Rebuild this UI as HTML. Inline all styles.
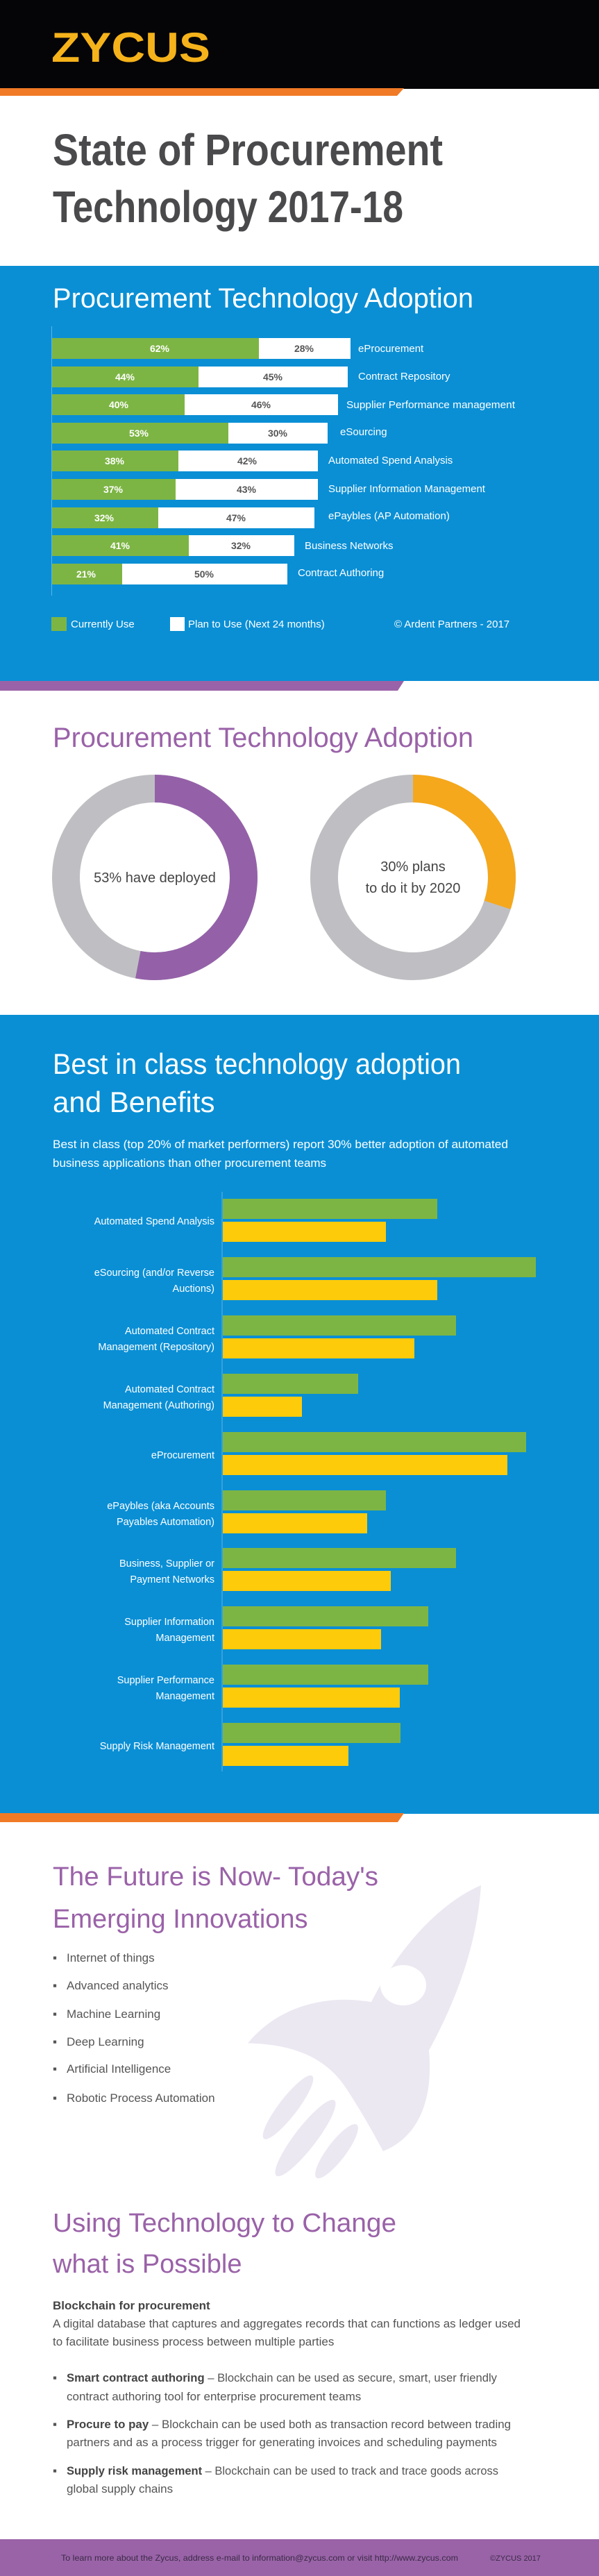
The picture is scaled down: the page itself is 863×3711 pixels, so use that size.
<!DOCTYPE html>
<html><head><meta charset="utf-8"><style>
html,body{margin:0;padding:0;background:#fff;}
svg{display:block;}
text{font-family:"Liberation Sans",sans-serif;}
</style></head><body>
<svg width="863" height="3711" viewBox="0 0 863 3711" xmlns="http://www.w3.org/2000/svg">
<!-- header -->
<rect x="0" y="0" width="863" height="128" fill="#050507"/>
<text x="74" y="89" font-size="60" font-weight="bold" fill="#f5b21a" textLength="229" lengthAdjust="spacingAndGlyphs">ZYCUS</text>
<polygon points="0,127 582,127 572,138 0,138" fill="#f07a25"/>
<text x="76" y="238" font-size="64" font-weight="bold" fill="#4a4a4c" textLength="562" lengthAdjust="spacingAndGlyphs">State of Procurement</text>
<text x="76" y="320" font-size="64" font-weight="bold" fill="#4a4a4c" textLength="505" lengthAdjust="spacingAndGlyphs">Technology 2017-18</text>

<!-- blue section 1 -->
<rect x="0" y="383" width="863" height="598" fill="#0a8fd5"/>
<text x="76" y="443" font-size="40" fill="#fff" textLength="606" lengthAdjust="spacingAndGlyphs">Procurement Technology Adoption</text>
<line x1="74.5" y1="470" x2="74.5" y2="858" stroke="#5db3e6" stroke-width="1"/>
<g font-size="14" font-weight="bold" text-anchor="middle">
<rect x="75" y="487" width="298" height="30" fill="#7db544"/><rect x="373" y="487" width="132" height="30" fill="#fff"/>
<text x="230" y="507" fill="#fff">62%</text><text x="438" y="507" fill="#555">28%</text>
<rect x="75" y="528" width="211" height="30" fill="#7db544"/><rect x="286" y="528" width="215" height="30" fill="#fff"/>
<text x="180" y="548" fill="#fff">44%</text><text x="393" y="548" fill="#555">45%</text>
<rect x="75" y="568" width="191" height="30" fill="#7db544"/><rect x="266" y="568" width="221" height="30" fill="#fff"/>
<text x="171" y="588" fill="#fff">40%</text><text x="376" y="588" fill="#555">46%</text>
<rect x="75" y="609" width="254" height="30" fill="#7db544"/><rect x="329" y="609" width="143" height="30" fill="#fff"/>
<text x="200" y="629" fill="#fff">53%</text><text x="400" y="629" fill="#555">30%</text>
<rect x="75" y="649" width="182" height="30" fill="#7db544"/><rect x="257" y="649" width="201" height="30" fill="#fff"/>
<text x="165" y="669" fill="#fff">38%</text><text x="356" y="669" fill="#555">42%</text>
<rect x="75" y="690" width="178" height="30" fill="#7db544"/><rect x="253" y="690" width="205" height="30" fill="#fff"/>
<text x="163" y="710" fill="#fff">37%</text><text x="355" y="710" fill="#555">43%</text>
<rect x="75" y="731" width="153" height="30" fill="#7db544"/><rect x="228" y="731" width="225" height="30" fill="#fff"/>
<text x="150" y="751" fill="#fff">32%</text><text x="340" y="751" fill="#555">47%</text>
<rect x="75" y="771" width="197" height="30" fill="#7db544"/><rect x="272" y="771" width="152" height="30" fill="#fff"/>
<text x="173" y="791" fill="#fff">41%</text><text x="347" y="791" fill="#555">32%</text>
<rect x="75" y="812" width="101" height="30" fill="#7db544"/><rect x="176" y="812" width="238" height="30" fill="#fff"/>
<text x="124" y="832" fill="#fff">21%</text><text x="294" y="832" fill="#555">50%</text>
</g>
<g font-size="15" fill="#fff">
<text x="516" y="507">eProcurement</text>
<text x="516" y="547">Contract Repository</text>
<text x="499" y="588" textLength="243" lengthAdjust="spacingAndGlyphs">Supplier Performance management</text>
<text x="490" y="627">eSourcing</text>
<text x="473" y="668">Automated Spend Analysis</text>
<text x="473" y="709">Supplier Information Management</text>
<text x="473" y="748">ePaybles (AP Automation)</text>
<text x="439" y="791">Business Networks</text>
<text x="429" y="830">Contract Authoring</text>
<rect x="74" y="889" width="22" height="20" fill="#7db544"/>
<text x="102" y="904">Currently Use</text>
<rect x="245" y="889" width="21" height="20" fill="#fff"/>
<text x="271" y="904">Plan to Use (Next 24 months)</text>
<text x="568" y="904">© Ardent Partners - 2017</text>
</g>
<polygon points="0,981 582,981 573,995 0,995" fill="#9a62a8"/>

<!-- donuts -->
<text x="76" y="1076" font-size="40" fill="#9a62a8" textLength="606" lengthAdjust="spacingAndGlyphs">Procurement Technology Adoption</text>
<circle cx="223" cy="1264" r="128" fill="none" stroke="#bfbfc3" stroke-width="40"/>
<circle cx="223" cy="1264" r="128" fill="none" stroke="#9461a8" stroke-width="40" stroke-dasharray="426.3 1000" transform="rotate(-90 223 1264)"/>
<circle cx="595" cy="1264" r="128" fill="none" stroke="#bfbfc3" stroke-width="40"/>
<circle cx="595" cy="1264" r="128" fill="none" stroke="#f5a81c" stroke-width="40" stroke-dasharray="241.3 1000" transform="rotate(-90 595 1264)"/>
<g font-size="20" fill="#444" text-anchor="middle">
<text x="223" y="1271">53% have deployed</text>
<text x="595" y="1255">30% plans</text>
<text x="595" y="1286">to do it by 2020</text>
</g>

<!-- blue section 2 -->
<rect x="0" y="1462" width="863" height="1151" fill="#0a8fd5"/>
<text x="76" y="1547" font-size="42" fill="#fff" textLength="588" lengthAdjust="spacingAndGlyphs">Best in class technology adoption</text>
<text x="76" y="1602" font-size="42" fill="#fff">and Benefits</text>
<text x="76" y="1654" font-size="17" fill="#fff" textLength="656" lengthAdjust="spacingAndGlyphs">Best in class (top 20% of market performers) report 30% better adoption of automated</text>
<text x="76" y="1681" font-size="17" fill="#fff">business applications than other procurement teams</text>
<line x1="320" y1="1717" x2="320" y2="2552" stroke="#5db3e6" stroke-width="1"/>
<g>
<rect x="321" y="1727" width="309" height="29" fill="#7db544"/><rect x="321" y="1760" width="235" height="29" fill="#fecb0a"/>
<rect x="321" y="1811" width="451" height="29" fill="#7db544"/><rect x="321" y="1844" width="309" height="29" fill="#fecb0a"/>
<rect x="321" y="1895" width="336" height="29" fill="#7db544"/><rect x="321" y="1928" width="276" height="29" fill="#fecb0a"/>
<rect x="321" y="1979" width="195" height="29" fill="#7db544"/><rect x="321" y="2012" width="114" height="29" fill="#fecb0a"/>
<rect x="321" y="2063" width="437" height="29" fill="#7db544"/><rect x="321" y="2096" width="410" height="29" fill="#fecb0a"/>
<rect x="321" y="2147" width="235" height="29" fill="#7db544"/><rect x="321" y="2180" width="208" height="29" fill="#fecb0a"/>
<rect x="321" y="2230" width="336" height="29" fill="#7db544"/><rect x="321" y="2263" width="242" height="29" fill="#fecb0a"/>
<rect x="321" y="2314" width="296" height="29" fill="#7db544"/><rect x="321" y="2347" width="228" height="29" fill="#fecb0a"/>
<rect x="321" y="2398" width="296" height="29" fill="#7db544"/><rect x="321" y="2431" width="255" height="29" fill="#fecb0a"/>
<rect x="321" y="2482" width="256" height="29" fill="#7db544"/><rect x="321" y="2515" width="181" height="29" fill="#fecb0a"/>
</g>
<g font-size="14.5" fill="#fff" text-anchor="end">
<text x="309" y="1764">Automated Spend Analysis</text>
<text x="309" y="1838">eSourcing (and/or Reverse</text><text x="309" y="1861">Auctions)</text>
<text x="309" y="1922">Automated Contract</text><text x="309" y="1945">Management (Repository)</text>
<text x="309" y="2006">Automated Contract</text><text x="309" y="2029">Management (Authoring)</text>
<text x="309" y="2101">eProcurement</text>
<text x="309" y="2174">ePaybles (aka Accounts</text><text x="309" y="2197">Payables Automation)</text>
<text x="309" y="2257">Business, Supplier or</text><text x="309" y="2280">Payment Networks</text>
<text x="309" y="2341">Supplier Information</text><text x="309" y="2364">Management</text>
<text x="309" y="2425">Supplier Performance</text><text x="309" y="2448">Management</text>
<text x="309" y="2520">Supply Risk Management</text>
</g>
<polygon points="0,2612 582,2612 573,2625 0,2625" fill="#f07a25"/>

<!-- rocket -->
<g fill="#ece8f2" transform="translate(0,2640) scale(1,1.2645) translate(0,-2640)">
<path d="M693,2700 C640,2718 580,2763 535,2833 C460,2823 395,2843 357,2880 C420,2881 470,2895 500,2933 C525,2963 545,2993 552,3003 C600,2988 625,2948 618,2888 C660,2828 688,2763 693,2700 Z"/>
<ellipse cx="415" cy="2953" rx="12" ry="50" transform="rotate(45 415 2953)"/>
<ellipse cx="440" cy="2988" rx="14" ry="60" transform="rotate(45 440 2988)"/>
<ellipse cx="485" cy="3003" rx="12" ry="42" transform="rotate(45 485 3003)"/>
</g>
<ellipse cx="581" cy="2860" rx="33" ry="29" fill="#fff"/>

<text x="76" y="2716" font-size="38" fill="#9a62a8" textLength="469" lengthAdjust="spacingAndGlyphs">The Future is Now- Today's</text>
<text x="76" y="2777" font-size="38" fill="#9a62a8">Emerging Innovations</text>
<g font-size="17" fill="#555">
<text x="76" y="2826">▪</text><text x="96" y="2826">Internet of things</text>
<text x="76" y="2866">▪</text><text x="96" y="2866">Advanced analytics</text>
<text x="76" y="2907">▪</text><text x="96" y="2907">Machine Learning</text>
<text x="76" y="2947">▪</text><text x="96" y="2947">Deep Learning</text>
<text x="76" y="2986">▪</text><text x="96" y="2986">Artificial Intelligence</text>
<text x="76" y="3028">▪</text><text x="96" y="3028">Robotic Process Automation</text>
</g>
<text x="76" y="3215" font-size="38" fill="#9a62a8" textLength="495" lengthAdjust="spacingAndGlyphs">Using Technology to Change</text>
<text x="76" y="3274" font-size="38" fill="#9a62a8">what is Possible</text>
<g font-size="17" fill="#555">
<text x="76" y="3327" font-weight="bold" fill="#444">Blockchain for procurement</text>
<text x="76" y="3353" textLength="674" lengthAdjust="spacingAndGlyphs">A digital database that captures and aggregates records that can functions as ledger used</text>
<text x="76" y="3379">to facilitate business process between multiple parties</text>
<text x="76" y="3431">▪</text><text x="96" y="3431" textLength="620" lengthAdjust="spacingAndGlyphs"><tspan font-weight="bold" fill="#444">Smart contract authoring</tspan> – Blockchain can be used as secure, smart, user friendly</text>
<text x="96" y="3458">contract authoring tool for enterprise procurement teams</text>
<text x="76" y="3498">▪</text><text x="96" y="3498" textLength="640" lengthAdjust="spacingAndGlyphs"><tspan font-weight="bold" fill="#444">Procure to pay</tspan> – Blockchain can be used both as  transaction record between trading</text>
<text x="96" y="3524" textLength="620" lengthAdjust="spacingAndGlyphs">partners and as a process trigger for generating invoices and scheduling payments</text>
<text x="76" y="3565">▪</text><text x="96" y="3565" textLength="622" lengthAdjust="spacingAndGlyphs"><tspan font-weight="bold" fill="#444">Supply risk management</tspan> – Blockchain can be used to track and trace goods across</text>
<text x="96" y="3591">global supply chains</text>
</g>

<!-- footer -->
<rect x="0" y="3658" width="863" height="53" fill="#9a63a8"/>
<text x="88" y="3689" font-size="12" fill="#3a2a45" textLength="572" lengthAdjust="spacingAndGlyphs">To learn more about the Zycus, address e-mail to information@zycus.com or visit http://www.zycus.com</text>
<text x="706" y="3689" font-size="11" fill="#3a2a45">©ZYCUS 2017</text>
</svg>
</body></html>
